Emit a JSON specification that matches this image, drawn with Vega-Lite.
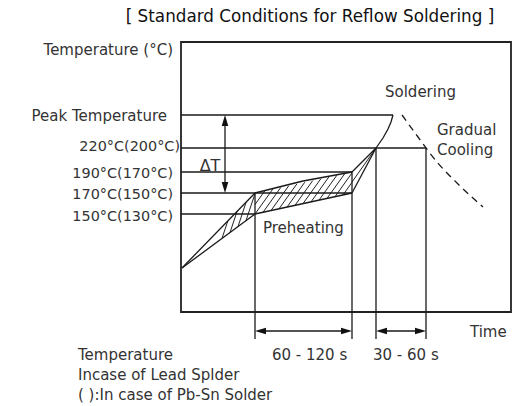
{
  "$schema": "https://vega.github.io/schema/vega-lite/v6.json",
  "width": 330,
  "height": 270,
  "autosize": {"type": "none"},
  "padding": {"left": 181, "top": 42, "right": 7, "bottom": 94},
  "background": "white",
  "config": {
    "view": {"stroke": "#222", "strokeWidth": 1.8},
    "text": {"font": "DejaVu Sans", "color": "#333"}
  },
  "datasets": {
    "lines": [
      {"x": 0, "y": 249, "x2": 212, "y2": 249},
      {"x": 0, "y": 216, "x2": 245, "y2": 216},
      {"x": 0, "y": 192, "x2": 171, "y2": 192},
      {"x": 0, "y": 171, "x2": 171, "y2": 171},
      {"x": 0, "y": 150, "x2": 74, "y2": 150},
      {"x": 74, "y": 171, "x2": 74, "y2": 25},
      {"x": 171, "y": 192, "x2": 171, "y2": 25},
      {"x": 195, "y": 216, "x2": 195, "y2": 25},
      {"x": 245, "y": 216, "x2": 245, "y2": 25},
      {"x": 78, "y": 33, "x2": 167, "y2": 33},
      {"x": 199, "y": 33, "x2": 241, "y2": 33},
      {"x": 44, "y": 245, "x2": 44, "y2": 175},
      {"x": 1, "y": 96, "x2": 74, "y2": 171},
      {"x": 1, "y": 96, "x2": 74, "y2": 150},
      {"x": 74, "y": 171, "x2": 122, "y2": 183},
      {"x": 122, "y": 183, "x2": 171, "y2": 192},
      {"x": 74, "y": 150, "x2": 171, "y2": 171},
      {"x": 171, "y": 192, "x2": 195, "y2": 216},
      {"x": 171, "y": 171, "x2": 195, "y2": 216}
    ],
    "hatch": [
      {"x": 171, "y": 182, "x2": 195, "y2": 216},
      {"x": 74, "y": 159.5, "x2": 83.8, "y2": 173.1},
      {"x": 74, "y": 150, "x2": 91.8, "y2": 174.9},
      {"x": 82, "y": 151.7, "x2": 99.8, "y2": 176.6},
      {"x": 90, "y": 153.5, "x2": 107.8, "y2": 178.3},
      {"x": 98, "y": 155.2, "x2": 115.8, "y2": 180.0},
      {"x": 106, "y": 156.9, "x2": 123.8, "y2": 181.8},
      {"x": 114, "y": 158.7, "x2": 131.8, "y2": 183.5},
      {"x": 122, "y": 160.4, "x2": 139.8, "y2": 185.2},
      {"x": 130, "y": 162.1, "x2": 147.8, "y2": 187.0},
      {"x": 138, "y": 163.9, "x2": 155.8, "y2": 188.7},
      {"x": 146, "y": 165.6, "x2": 163.8, "y2": 190.4},
      {"x": 154, "y": 167.3, "x2": 171, "y2": 191.1},
      {"x": 162, "y": 169.1, "x2": 171, "y2": 181.7},
      {"x": 41, "y": 125.6, "x2": 46.8, "y2": 143.0},
      {"x": 49, "y": 131.5, "x2": 56, "y2": 152.5},
      {"x": 57, "y": 137.4, "x2": 65.1, "y2": 161.8},
      {"x": 65, "y": 143.4, "x2": 74, "y2": 170.4}
    ],
    "rise": [
      {"x": 195, "y": 216, "o": 1},
      {"x": 202, "y": 226, "o": 2},
      {"x": 207, "y": 235, "o": 3},
      {"x": 210, "y": 242, "o": 4},
      {"x": 212, "y": 249, "o": 5}
    ],
    "cooling": [
      {"x": 221, "y": 249, "o": 1},
      {"x": 237, "y": 227, "o": 2},
      {"x": 256, "y": 202, "o": 3},
      {"x": 276, "y": 181, "o": 4},
      {"x": 302, "y": 157, "o": 5}
    ],
    "heads": [
      {"x": 79.5, "y": 33, "dir": "left"},
      {"x": 165.5, "y": 33, "dir": "right"},
      {"x": 200.5, "y": 33, "dir": "left"},
      {"x": 239.5, "y": 33, "dir": "right"},
      {"x": 44, "y": 243.5, "dir": "up"},
      {"x": 44, "y": 176.5, "dir": "down"}
    ],
    "rightLabels": [
      {"x": -8, "y": 309, "t": "Temperature (°C)"},
      {"x": -14, "y": 243, "t": "Peak Temperature"}
    ],
    "tempLabels": [
      {"x": -1, "y": 213, "t": "220°C(200°C)"},
      {"x": -8, "y": 186, "t": "190°C(170°C)"},
      {"x": -8, "y": 165, "t": "170°C(150°C)"},
      {"x": -8, "y": 143, "t": "150°C(130°C)"}
    ],
    "leftLabels": [
      {"x": 204, "y": 267, "t": "Soldering"},
      {"x": 256, "y": 229, "t": "Gradual"},
      {"x": 256, "y": 209, "t": "Cooling"},
      {"x": 82, "y": 131, "t": "Preheating"},
      {"x": 289, "y": 27, "t": "Time"},
      {"x": 91, "y": 4, "t": "60 - 120 s"},
      {"x": 192, "y": 4, "t": "30 - 60 s"},
      {"x": -103, "y": 4, "t": "Temperature"},
      {"x": -103, "y": -16, "t": "Incase of Lead Splder"},
      {"x": -103, "y": -36, "t": "( ):In case of Pb-Sn Solder"}
    ],
    "delta": [{"x": 29, "y": 193, "t": "ΔT"}],
    "title": [{"x": 129, "y": 342, "t": "[ Standard Conditions for Reflow Soldering ]"}]
  },
  "encoding": {
    "x": {"field": "x", "type": "quantitative", "scale": {"domain": [0, 330], "nice": false, "zero": false}, "axis": null},
    "y": {"field": "y", "type": "quantitative", "scale": {"domain": [52, 322], "nice": false, "zero": false}, "axis": null}
  },
  "layer": [
    {
      "data": {"name": "hatch"},
      "mark": {"type": "rule", "color": "#222", "strokeWidth": 1},
      "encoding": {"x2": {"field": "x2"}, "y2": {"field": "y2"}}
    },
    {
      "data": {"name": "lines"},
      "mark": {"type": "rule", "color": "#1a1a1a", "strokeWidth": 1.3},
      "encoding": {"x2": {"field": "x2"}, "y2": {"field": "y2"}}
    },
    {
      "data": {"name": "rise"},
      "mark": {"type": "line", "color": "#1a1a1a", "strokeWidth": 1.3},
      "encoding": {"order": {"field": "o"}}
    },
    {
      "data": {"name": "cooling"},
      "mark": {"type": "line", "color": "#1a1a1a", "strokeWidth": 1.3, "strokeDash": [7, 5], "interpolate": "monotone"},
      "encoding": {"order": {"field": "o"}}
    },
    {
      "data": {"name": "heads"},
      "transform": [{"filter": "datum.dir == 'left'"}],
      "mark": {"type": "point", "filled": true, "color": "#111", "opacity": 1, "size": 121, "shape": "M-1,0L1,-0.6L1,0.6Z"}
    },
    {
      "data": {"name": "heads"},
      "transform": [{"filter": "datum.dir == 'right'"}],
      "mark": {"type": "point", "filled": true, "color": "#111", "opacity": 1, "size": 121, "shape": "M1,0L-1,-0.6L-1,0.6Z"}
    },
    {
      "data": {"name": "heads"},
      "transform": [{"filter": "datum.dir == 'up'"}],
      "mark": {"type": "point", "filled": true, "color": "#111", "opacity": 1, "size": 121, "shape": "M0,-1L-0.6,1L0.6,1Z"}
    },
    {
      "data": {"name": "heads"},
      "transform": [{"filter": "datum.dir == 'down'"}],
      "mark": {"type": "point", "filled": true, "color": "#111", "opacity": 1, "size": 121, "shape": "M0,1L-0.6,-1L0.6,-1Z"}
    },
    {
      "data": {"name": "rightLabels"},
      "mark": {"type": "text", "align": "right", "baseline": "alphabetic", "fontSize": 15},
      "encoding": {"text": {"field": "t"}}
    },
    {
      "data": {"name": "tempLabels"},
      "mark": {"type": "text", "align": "right", "baseline": "alphabetic", "fontSize": 14.4},
      "encoding": {"text": {"field": "t"}}
    },
    {
      "data": {"name": "leftLabels"},
      "mark": {"type": "text", "align": "left", "baseline": "alphabetic", "fontSize": 15},
      "encoding": {"text": {"field": "t"}}
    },
    {
      "data": {"name": "delta"},
      "mark": {"type": "text", "align": "center", "baseline": "alphabetic", "fontSize": 16},
      "encoding": {"text": {"field": "t"}}
    },
    {
      "data": {"name": "title"},
      "mark": {"type": "text", "align": "center", "baseline": "alphabetic", "fontSize": 16.8, "color": "#111"},
      "encoding": {"text": {"field": "t"}}
    }
  ]
}
